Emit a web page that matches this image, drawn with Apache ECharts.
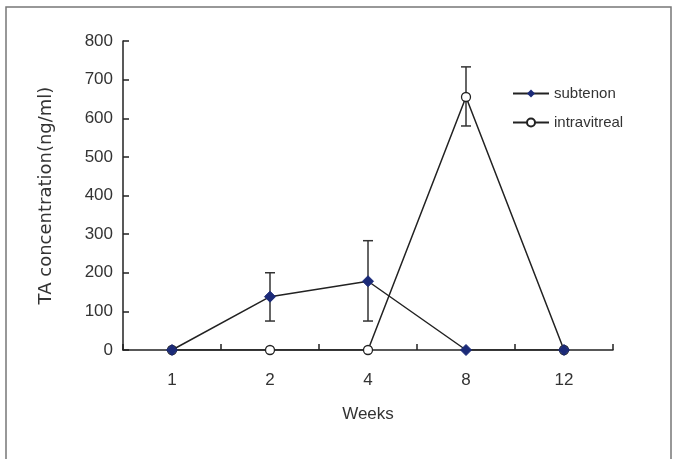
<!DOCTYPE html>
<html lang="en">
<head>
    <meta charset="UTF-8">
    <title>TA concentration</title>
    <script src="https://cdn.jsdelivr.net/npm/echarts@6/dist/echarts.min.js"></script>
</head>
<body style="margin:0;background:#fff">
    <div id="main" style="width:677px;height:459px"></div>
<script>
    // weeks after injection
    let weeks = ['1', '2', '4', '8', '12'];
    let subtenon = [0, 138, 178, 0, 0];
    let subtenonLow = [0, 75, 75, 0, 0];
    let subtenonHigh = [0, 200, 283, 0, 0];
    let intravitreal = [0, 0, 0, 655, 0];
    let intraLow = [0, 0, 0, 580, 0];
    let intraHigh = [0, 0, 0, 733, 0];
    let yTicks = [0, 100, 200, 300, 400, 500, 600, 700, 800];

    let myChart = echarts.init(document.getElementById('main'));

    function errorBars(low, high) {
        let data = [];
        low.forEach(function(v, i) {
            if (high[i] > low[i]) data.push([i, v, high[i]]);
        });
        return {
            type: 'custom',
            silent: true,
            z: 1,
            data: data,
            renderItem: function(params, api) {
                let lo = api.coord([api.value(0), api.value(1)]);
                let hi = api.coord([api.value(0), api.value(2)]);
                let w = 5;
                let st = { stroke: '#333', lineWidth: 1.5 };
                return {
                    type: 'group',
                    children: [
                        { type: 'line', shape: { x1: lo[0], y1: lo[1], x2: hi[0], y2: hi[1] }, style: st },
                        { type: 'line', shape: { x1: lo[0] - w, y1: lo[1], x2: lo[0] + w, y2: lo[1] }, style: st },
                        { type: 'line', shape: { x1: hi[0] - w, y1: hi[1], x2: hi[0] + w, y2: hi[1] }, style: st }
                    ]
                };
            }
        };
    }

    let font = 'Liberation Sans';

    myChart.setOption({
        animation: false,
        textStyle: { fontFamily: font },
        graphic: [{
            type: 'rect',
            shape: { x: 6, y: 7, width: 665, height: 470 },
            style: { fill: 'none', stroke: '#777', lineWidth: 1.5 },
            silent: true
        }],
        grid: { left: 123, right: 64, top: 41, bottom: 109 },
        legend: {
            orient: 'vertical',
            left: 507,
            top: 81,
            itemWidth: 36,
            itemHeight: 10,
            itemGap: 14,
            textStyle: { fontFamily: font, fontSize: 15, color: '#333' },
            data: ['subtenon', 'intravitreal']
        },
        xAxis: {
            type: 'category',
            data: weeks,
            boundaryGap: true,
            name: 'Weeks',
            nameLocation: 'middle',
            nameGap: 56,
            nameTextStyle: { fontSize: 17, color: '#333' },
            axisLine: { lineStyle: { color: '#222', width: 1.5 } },
            axisTick: { show: true, inside: true, length: 6, interval: 0, alignWithLabel: false, lineStyle: { color: '#222', width: 1.5 } },
            axisLabel: { fontSize: 17, color: '#333', margin: 22 },
            splitLine: { show: false }
        },
        yAxis: {
            type: 'value',
            min: 0,
            max: yTicks[yTicks.length - 1],
            interval: yTicks[1] - yTicks[0],
            name: 'TA concentration(ng/ml)',
            nameLocation: 'middle',
            nameGap: 68,
            nameTextStyle: { fontSize: 18, color: '#333', fontFamily: 'DejaVu Sans' },
            axisLine: { show: true, lineStyle: { color: '#222', width: 1.5 } },
            axisTick: { show: true, inside: true, length: 6, lineStyle: { color: '#222', width: 1.5 } },
            axisLabel: { fontSize: 17, color: '#333', margin: 10 },
            splitLine: { show: false }
        },
        series: [
            errorBars(intraLow, intraHigh),
            errorBars(subtenonLow, subtenonHigh),
            {
                name: 'intravitreal',
                type: 'line',
                data: intravitreal,
                symbol: 'circle',
                symbolSize: 9,
                showAllSymbol: true,
                z: 2,
                lineStyle: { color: '#222', width: 1.5 },
                itemStyle: { color: '#fff', borderColor: '#222', borderWidth: 1.3 }
            },
            {
                name: 'subtenon',
                type: 'line',
                data: subtenon,
                symbol: 'diamond',
                symbolSize: 11,
                showAllSymbol: true,
                z: 3,
                lineStyle: { color: '#222', width: 1.5 },
                itemStyle: { color: '#1b2a78', borderColor: '#1b2a78' }
            }
        ]
    });
</script>
</body>
</html>
